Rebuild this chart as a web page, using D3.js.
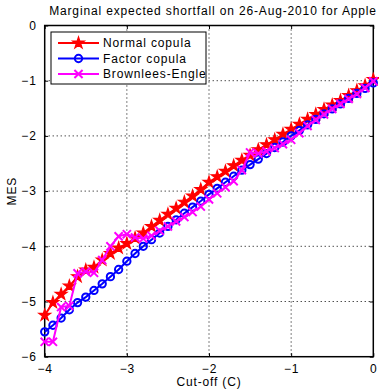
<!DOCTYPE html>
<html>
<head>
<meta charset="utf-8">
<script src="https://cdn.jsdelivr.net/npm/d3@7"></script>
<style>
  html, body { margin: 0; padding: 0; background: #fff; }
  svg { display: block; }
  text { font-family: "Liberation Sans", Arial, sans-serif; fill: #000; }
</style>
</head>
<body>
<svg id="chart" width="379" height="391"></svg>
<script>
// Cut-off values C from -4 to 0 in steps of 0.1
const cutoffs = [-4.0,-3.9,-3.8,-3.7,-3.6,-3.5,-3.4,-3.3,-3.2,-3.1,-3.0,-2.9,-2.8,-2.7,-2.6,-2.5,-2.4,-2.3,-2.2,-2.1,
                 -2.0,-1.9,-1.8,-1.7,-1.6,-1.5,-1.4,-1.3,-1.2,-1.1,-1.0,-0.9,-0.8,-0.7,-0.6,-0.5,-0.4,-0.3,-0.2,-0.1,0.0];

const normalCopula = [-5.25,-5.02,-4.87,-4.72,-4.55,-4.43,-4.38,-4.25,-4.13,-4.03,-3.95,-3.85,-3.76,-3.64,-3.53,-3.42,-3.31,-3.20,-3.09,-2.97,
                      -2.84,-2.74,-2.64,-2.54,-2.44,-2.35,-2.25,-2.16,-2.07,-1.97,-1.88,-1.79,-1.70,-1.61,-1.52,-1.44,-1.36,-1.27,-1.18,-1.09,-0.98];

const factorCopula = [-5.55,-5.43,-5.30,-5.15,-5.02,-4.92,-4.80,-4.68,-4.55,-4.42,-4.27,-4.13,-4.00,-3.88,-3.76,-3.64,-3.52,-3.40,-3.29,-3.18,
                      -3.06,-2.95,-2.84,-2.73,-2.62,-2.52,-2.42,-2.32,-2.21,-2.11,-2.00,-1.90,-1.80,-1.70,-1.60,-1.51,-1.42,-1.32,-1.23,-1.14,-1.04];

const brownleesEngle = [-5.73,-5.73,-5.10,-5.08,-4.49,-4.46,-4.48,-4.25,-4.00,-3.82,-3.78,-3.84,-3.86,-3.81,-3.72,-3.64,-3.55,-3.47,-3.38,-3.28,
                        -3.15,-3.04,-2.93,-2.82,-2.62,-2.30,-2.32,-2.28,-2.22,-2.15,-2.07,-1.95,-1.82,-1.71,-1.61,-1.51,-1.42,-1.33,-1.24,-1.13,-1.01];

const seriesNames = ["Normal copula", "Factor copula", "Brownlees-Engle"];
const seriesColors = ["#ff0000", "#0000ff", "#ff00ff"];
const xTicks = [-4, -3, -2, -1, 0];
const yTicks = [-6, -5, -4, -3, -2, -1, 0];

const titleText = "Marginal expected shortfall on 26-Aug-2010 for Apple";
const xLabel = "Cut-off (C)";
const yLabel = "MES";

const svg = d3.select("#chart");
const plotL = 44.7, plotR = 373.3, plotT = 25.5, plotB = 356.7;
const fontSize = 12, spacing = 0.85;

const x = d3.scaleLinear().domain([-4, 0]).range([plotL, plotR]);
const y = d3.scaleLinear().domain([-6, 0]).range([plotB, plotT]);

// dotted grid
const grid = svg.append("g");
xTicks.slice(1, -1).forEach(t => {
  grid.append("line").attr("x1", x(t)).attr("x2", x(t)).attr("y1", plotT).attr("y2", plotB)
    .attr("stroke", "#000").attr("stroke-width", 1).attr("stroke-dasharray", "1,3");
});
yTicks.slice(1, -1).forEach(t => {
  grid.append("line").attr("x1", plotL).attr("x2", plotR).attr("y1", y(t)).attr("y2", y(t))
    .attr("stroke", "#000").attr("stroke-width", 1).attr("stroke-dasharray", "1,3");
});

// axes with inward ticks on all four sides
const tickLen = 3.5;
const axisFont = g => g.selectAll("text").attr("font-size", fontSize).attr("letter-spacing", spacing)
  .attr("font-family", "Liberation Sans, Arial, sans-serif");
svg.append("g").attr("transform", `translate(0,${plotB})`)
  .call(d3.axisBottom(x).tickValues(xTicks).tickSize(-tickLen).tickPadding(8).tickFormat(d3.format("d")))
  .call(g => g.select(".domain").remove()).call(axisFont);
svg.append("g").attr("transform", `translate(${plotL},0)`)
  .call(d3.axisLeft(y).tickValues(yTicks).tickSize(-tickLen).tickPadding(8).tickFormat(d3.format("d")))
  .call(g => g.select(".domain").remove()).call(axisFont);
svg.append("g").attr("transform", `translate(0,${plotT})`)
  .call(d3.axisTop(x).tickValues(xTicks).tickSize(-tickLen).tickFormat(""))
  .call(g => g.select(".domain").remove());
svg.append("g").attr("transform", `translate(${plotR},0)`)
  .call(d3.axisRight(y).tickValues(yTicks).tickSize(-tickLen).tickFormat(""))
  .call(g => g.select(".domain").remove());
svg.selectAll(".tick line").attr("stroke", "#000");

// plot box
svg.append("rect").attr("x", plotL).attr("y", plotT).attr("width", plotR - plotL).attr("height", plotB - plotT)
  .attr("fill", "none").attr("stroke", "#000").attr("stroke-width", 1.5);

// series
const allSeries = [normalCopula, factorCopula, brownleesEngle];
const symbols = [
  d3.symbol().type(d3.symbolStar).size(42),
  d3.symbol().type(d3.symbolCircle).size(42),
  d3.symbol().type(d3.symbolTimes).size(45)
];
const line = d3.line().x(d => x(d[0])).y(d => y(d[1]));

function drawMarker(g, i, px, py) {
  const p = g.append("path").attr("d", symbols[i]()).attr("transform", `translate(${px},${py})`);
  if (i === 0) p.attr("fill", seriesColors[i]).attr("stroke", seriesColors[i]).attr("stroke-width", 1.2);
  else p.attr("fill", "none").attr("stroke", seriesColors[i]).attr("stroke-width", 2);
}

allSeries.forEach((vals, i) => {
  const pts = cutoffs.map((c, k) => [c, vals[k]]);
  const g = svg.append("g");
  g.append("path").attr("d", line(pts)).attr("fill", "none")
    .attr("stroke", seriesColors[i]).attr("stroke-width", 2);
  pts.forEach(p => drawMarker(g, i, x(p[0]), y(p[1])));
});

// legend
const lg = svg.append("g");
lg.append("rect").attr("x", 51).attr("y", 32).attr("width", 155).attr("height", 52)
  .attr("fill", "#fff").attr("stroke", "#000").attr("stroke-width", 1);
seriesNames.forEach((name, i) => {
  const ly = 43 + i * 15.5;
  lg.append("line").attr("x1", 58).attr("x2", 99).attr("y1", ly).attr("y2", ly)
    .attr("stroke", seriesColors[i]).attr("stroke-width", 2);
  drawMarker(lg, i, 78.5, ly);
  lg.append("text").attr("x", 103).attr("y", ly + 4.3).attr("font-size", fontSize)
    .attr("letter-spacing", spacing).text(name);
});

// titles
svg.append("text").attr("x", (plotL + plotR) / 2 + 4).attr("y", 15).attr("text-anchor", "middle")
  .attr("font-size", fontSize).attr("letter-spacing", spacing).text(titleText);
svg.append("text").attr("x", (plotL + plotR) / 2).attr("y", 386).attr("text-anchor", "middle")
  .attr("font-size", fontSize).attr("letter-spacing", spacing).text(xLabel);
svg.append("text").attr("transform", `translate(16,${(plotT + plotB) / 2}) rotate(-90)`)
  .attr("text-anchor", "middle").attr("font-size", fontSize).attr("letter-spacing", spacing).text(yLabel);
</script>
</body>
</html>
